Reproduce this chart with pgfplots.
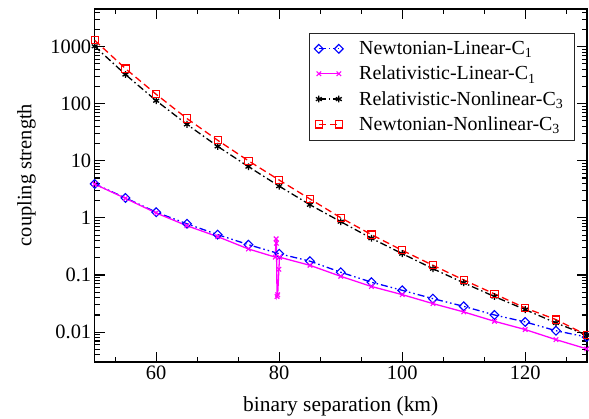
\documentclass[border=0pt]{standalone}
\usepackage{fontspec}
\setmainfont{Liberation Serif}
\usepackage{pgfplots}
\usepackage{pgfplotstable}
\pgfplotsset{compat=1.18}
\definecolor{gmagenta}{RGB}{255,0,255}
\definecolor{gblue}{RGB}{0,0,255}
\definecolor{gred}{RGB}{255,0,0}

% coupling strength against binary separation (km)
\pgfplotstableread{
x      newtlin  rellin   relnl   newtnl
50     3.94     3.90     1012    1290
55     2.24     2.20     324     412
60     1.26     1.22     113     146
65     0.79     0.73     43.5    55
70     0.51     0.47     17.9    22.9
75     0.34     0.286    7.9     10.0
80     0.236    0.205    3.6     4.6
85     0.175    0.148    1.7     2.15
90     0.112    0.095    0.86    1.01
95     0.075    0.063    0.44    0.51
100    0.054    0.0454   0.237   0.271
105    0.0386   0.0316   0.129   0.148
110    0.0283   0.0226   0.073   0.082
115    0.0200   0.0155   0.042   0.0467
120    0.0151   0.0111   0.0248  0.0265
125    0.0106   0.0074   0.0145  0.0166
130    0.0082   0.0051   0.0089  0.0089
}\datatable

% relativistic linear C1, with the resolved structure near 80 km
\pgfplotstableread{
x      y
50     3.90
55     2.20
60     1.22
65     0.73
70     0.47
75     0.286
79.35  0.206
79.5   0.43
79.55  0.36
79.65  0.042
79.75  0.045
79.95  0.126
80.05  0.205
85     0.148
90     0.095
95     0.063
100    0.0454
105    0.0316
110    0.0226
115    0.0155
120    0.0111
125    0.0074
130    0.0051
}\rellintable

\begin{document}
\begin{tikzpicture}
\begin{axis}[
  scale only axis,
  width=492bp, height=352.7bp,
  xmin=50, xmax=130,
  ymode=log, ymin=0.003, ymax=4500,
  clip=false,
  xtick={60,80,100,120},
  xticklabels={60,80,100,120},
  minor xtick={53.333,66.667,73.333,86.667,93.333,106.667,113.333,126.667},
  ytick={0.01,0.1,1,10,100,1000},
  yticklabels={0.01,0.1,1,10,100,1000},
  minor ytick={0.003,0.004,0.005,0.006,0.007,0.008,0.009,
               0.02,0.03,0.04,0.05,0.06,0.07,0.08,0.09,
               0.2,0.3,0.4,0.5,0.6,0.7,0.8,0.9,
               2,3,4,5,6,7,8,9,
               20,30,40,50,60,70,80,90,
               200,300,400,500,600,700,800,900,
               2000,3000,4000},
  tick align=inside,
  xtick pos=both, ytick pos=both,
  major tick length=10bp, minor tick length=5bp,
  every tick/.style={black, line width=1.1bp},
  axis line style={line width=1.6bp},
  tick label style={font=\fontsize{20.5}{24}\selectfont},
  xlabel={binary separation (km)},
  ylabel={coupling strength},
  xlabel style={font=\fontsize{21.5}{25}\selectfont, at={(axis description cs:0.5,-0.126)}, anchor=center},
  ylabel style={font=\fontsize{20.5}{24}\selectfont, at={(axis description cs:-0.1386,0.53)}, anchor=center, rotate=0},
  legend image code/.code={\draw[#1] plot coordinates {(0bp,0bp) (20bp,0bp)};},
  legend cell align=left,
  legend style={
    at={(axis description cs:0.4356,0.9328)}, anchor=north west,
    draw=black!85, line width=0.9bp,
    font=\fontsize{20}{24}\selectfont,
    inner xsep=5bp, inner ysep=6bp,
    row sep=6bp, column sep=14bp,
    cells={anchor=west, text width=208bp, inner xsep=0bp, inner ysep=2bp},
  },
]
\addplot[gblue, line width=1.3bp, dash pattern=on 7bp off 3bp on 1.5bp off 3bp on 1.5bp off 3bp,
  mark=square, mark size=3.1bp, mark options={solid, rotate=45, line width=1.1bp}]
  table[x=x, y=newtlin] {\datatable};
\addlegendentry{Newtonian-Linear-C\textsubscript{1}}

\addplot[gmagenta, line width=1.3bp, solid,
  mark=x, mark size=3.2bp, mark options={solid, line width=1.1bp}]
  table[x=x, y=y] {\rellintable};
\addlegendentry{Relativistic-Linear-C\textsubscript{1}}

\addplot[black, line width=1.3bp, dash pattern=on 7bp off 3bp on 1.5bp off 3bp,
  mark=asterisk, mark size=3.4bp, mark options={solid, line width=1.3bp}]
  table[x=x, y=relnl] {\datatable};
\addlegendentry{Relativistic-Nonlinear-C\textsubscript{3}}

\addplot[gred, line width=1.3bp, dash pattern=on 7bp off 4bp,
  mark=square, mark size=3.6bp, mark options={solid, line width=1.1bp}]
  table[x=x, y=newtnl] {\datatable};
\addlegendentry{Newtonian-Nonlinear-C\textsubscript{3}}

\coordinate (bl) at (rel axis cs:0,0);
\coordinate (tr) at (rel axis cs:1,1);
\end{axis}
\pgfresetboundingbox
\path ([shift={(-94.7bp,-56bp)}]bl) rectangle ([shift={(2.3bp,9.3bp)}]tr);
\end{tikzpicture}
\end{document}
